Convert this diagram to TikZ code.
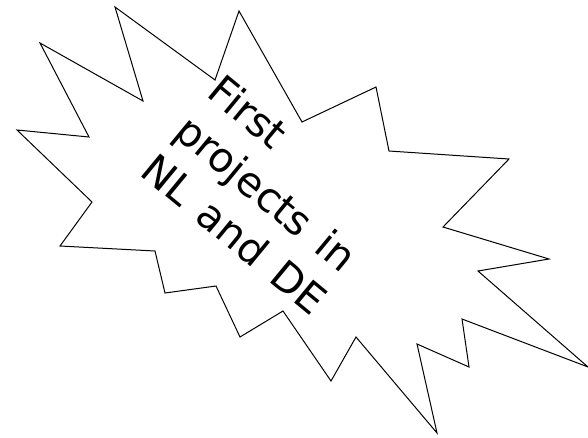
\documentclass[tikz,border=0pt]{standalone}
\usepackage{fontspec}
\setmainfont{DejaVu Sans}
\newcommand\lblfont{\fontsize{41}{50}\selectfont\spaceskip 18pt\relax}
\begin{document}
\begin{tikzpicture}[x=1pt,y=-1pt,
  burst/.style={draw=black,line width=1pt,line join=miter,fill=white},
  label/.style={anchor=base west,inner sep=0pt,rotate=-39.5,font=\lblfont}]
\useasboundingbox (0,0) rectangle (588,437);
\draw[burst] (115,7) -- (215,80) -- (239,11) -- (302,122) -- (376,87) -- (389,151)
  -- (509,159) -- (443,227) -- (549,259) -- (478,271) -- (588,367) -- (462,319)
  -- (469,367) -- (417,344) -- (437,433) -- (356,337) -- (331,381) -- (283,311)
  -- (240,337) -- (216,286) -- (165,293) -- (155,251) -- (60,246) -- (92,202)
  -- (17,130) -- (89,137) -- (40,43) -- (143,101) -- cycle;
\node[label] (l1) at (205.2,95.8) {First};
\node[label] (l2) at (171.9,135) {projects in};
\node[label] (l3) at (138.6,174.2) {NL and DE};
\end{tikzpicture}
\end{document}
